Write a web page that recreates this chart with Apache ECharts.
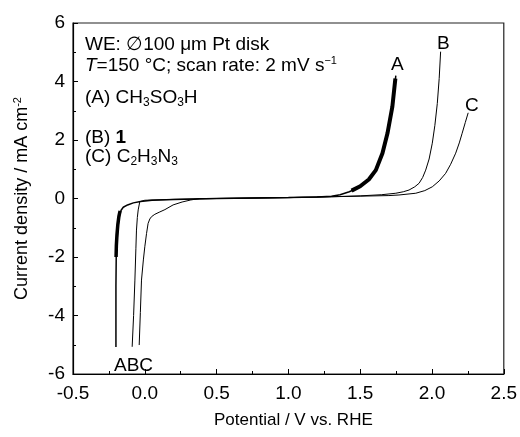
<!DOCTYPE html>
<html>
<head>
<meta charset="utf-8">
<script src="https://cdn.jsdelivr.net/npm/echarts@6/dist/echarts.min.js"></script>
<style>
  html, body { margin: 0; padding: 0; background: #fff; }
  #chart { width: 520px; height: 437px; }
</style>
</head>
<body>
<div id="chart"></div>
<script>
// potential (V vs. RHE) and current density (mA cm-2)
const aV = [-0.201, -0.201, -0.199, -0.195, -0.19, -0.183, -0.175, -0.165, -0.15, -0.12, -0.08, -0.03, 0.05, 0.2, 0.5, 1.0, 1.2, 1.3, 1.36, 1.424, 1.48, 1.54, 1.609, 1.655, 1.69, 1.724, 1.748]
const aJ = [-5.08, -3.0, -2.0, -1.6, -1.2, -0.8, -0.55, -0.4, -0.3, -0.22, -0.15, -0.1, -0.06, -0.03, 0.0, 0.03, 0.05, 0.08, 0.13, 0.23, 0.35, 0.55, 0.97, 1.55, 2.23, 3.14, 4.2]
// noisy (thick) stretches of curve A
const aNoiseLowV = [-0.2, -0.198, -0.194, -0.188, -0.18, -0.172]
const aNoiseLowJ = [-2.0, -1.6, -1.25, -0.9, -0.6, -0.42]
const aNoiseHighV = [1.44, 1.5, 1.56, 1.609, 1.655, 1.69, 1.724, 1.745]
const aNoiseHighJ = [0.27, 0.42, 0.65, 0.97, 1.55, 2.23, 3.14, 4.1]

const bV = [-0.088, -0.078, -0.069, -0.062, -0.058, -0.052, -0.046, -0.035, 0.0, 0.2, 0.5, 1.0, 1.3, 1.5, 1.65, 1.748, 1.8, 1.84, 1.88, 1.91, 1.935, 1.956, 1.98, 2.002, 2.02, 2.037, 2.05, 2.06]
const bJ = [-5.07, -4.0, -2.79, -1.7, -1.08, -0.65, -0.39, -0.11, -0.06, -0.03, 0.0, 0.03, 0.06, 0.09, 0.13, 0.18, 0.23, 0.29, 0.4, 0.52, 0.72, 0.97, 1.35, 1.89, 2.5, 3.25, 4.1, 5.02]

const cV = [-0.039, -0.031, -0.023, -0.01, 0.0, 0.012, 0.023, 0.035, 0.047, 0.07, 0.1, 0.14, 0.197, 0.26, 0.32, 0.382, 0.5, 1.0, 1.3, 1.5, 1.7, 1.77, 1.887, 1.95, 2.002, 2.05, 2.095, 2.13, 2.165, 2.19, 2.21, 2.232, 2.252]
const cJ = [-5.01, -3.9, -2.79, -2.1, -1.65, -1.2, -0.85, -0.7, -0.62, -0.54, -0.47, -0.38, -0.22, -0.12, -0.05, 0.0, 0.0, 0.03, 0.06, 0.08, 0.1, 0.12, 0.18, 0.27, 0.4, 0.6, 0.86, 1.17, 1.55, 1.9, 2.23, 2.6, 2.93]

const xTicks = { min: -0.5, max: 2.5, interval: 0.5 }
const yTicks = { min: -6, max: 6, interval: 2 }

const zip = (xs, ys) => xs.map((x, i) => [x, ys[i]])

const chart = echarts.init(document.getElementById('chart'))

const font = 'Liberation Sans, Arial, sans-serif'
const subRich = {
  s: { fontSize: 12, fontFamily: font, padding: [10, 0, 0, 0] },
  u: { fontSize: 11, fontFamily: font, padding: [0, 0, 10, 0] },
  i: { fontSize: 19, fontFamily: font, fontStyle: 'italic' },
  b: { fontSize: 19, fontFamily: font, fontWeight: 'bold' }
}

function label(x, y, text, size) {
  return {
    type: 'text',
    left: x,
    top: y,
    style: {
      text: text,
      font: (size || 19) + 'px ' + font,
      fill: '#000',
      rich: subRich
    }
  }
}

const option = {
  animation: false,
  backgroundColor: '#fff',
  grid: {
    left: 73,
    right: 15,
    top: 23,
    bottom: 63,
    show: true,
    borderColor: '#222',
    borderWidth: 1.2
  },
  xAxis: {
    type: 'value',
    min: xTicks.min,
    max: xTicks.max,
    interval: xTicks.interval,
    name: 'Potential / V vs. RHE',
    nameLocation: 'middle',
    nameGap: 38,
    nameTextStyle: { fontSize: 17, fontFamily: font, color: '#000', padding: [0, 0, 0, 10] },
    axisLine: { onZero: false, lineStyle: { color: '#000', width: 1.2 } },
    axisTick: { inside: true, length: 5, lineStyle: { color: '#000' } },
    minorTick: { show: true, splitNumber: 2, length: 3, lineStyle: { color: '#000' } },
    axisLabel: {
      fontSize: 19, fontFamily: font, color: '#000', margin: 10,
      formatter: v => v.toFixed(1)
    },
    splitLine: { show: false }
  },
  yAxis: {
    type: 'value',
    min: yTicks.min,
    max: yTicks.max,
    interval: yTicks.interval,
    name: 'Current density / mA cm{u|-2}',
    nameLocation: 'middle',
    nameGap: 40,
    nameTextStyle: { fontSize: 18, fontFamily: font, color: '#000', rich: subRich },
    axisLine: { onZero: false, lineStyle: { color: '#000', width: 1.2 } },
    axisTick: { inside: true, length: 5, lineStyle: { color: '#000' } },
    minorTick: { show: true, splitNumber: 2, length: 3, lineStyle: { color: '#000' } },
    axisLabel: { fontSize: 19, fontFamily: font, color: '#000', margin: 8 },
    splitLine: { show: false }
  },
  series: [
    {
      name: 'A', type: 'line', symbol: 'none',
      lineStyle: { color: '#000', width: 1.5 },
      data: zip(aV, aJ)
    },
    {
      name: 'A noise low', type: 'line', symbol: 'none',
      lineStyle: { color: '#000', width: 3.5 },
      data: zip(aNoiseLowV, aNoiseLowJ)
    },
    {
      name: 'A noise high', type: 'line', symbol: 'none',
      lineStyle: { color: '#000', width: 4 },
      data: zip(aNoiseHighV, aNoiseHighJ)
    },
    {
      name: 'B', type: 'line', symbol: 'none',
      lineStyle: { color: '#000', width: 1 },
      data: zip(bV, bJ)
    },
    {
      name: 'C', type: 'line', symbol: 'none',
      lineStyle: { color: '#000', width: 1 },
      data: zip(cV, cJ)
    }
  ],
  graphic: [
    label(85, 35, 'WE: \u2205100 \u03bcm Pt disk'),
    label(85, 55, '{i|T}=150 \u00b0C; scan rate: 2 mV s{u|\u22121}'),
    label(85, 88, '(A) CH{s|3}SO{s|3}H'),
    label(85, 128, '(B) {b|1}'),
    label(85, 147, '(C) C{s|2}H{s|3}N{s|3}'),
    label(391, 55, 'A'),
    label(437, 34, 'B'),
    label(465, 96, 'C'),
    label(114, 356, 'ABC')
  ]
}

chart.setOption(option)
</script>
</body>
</html>
